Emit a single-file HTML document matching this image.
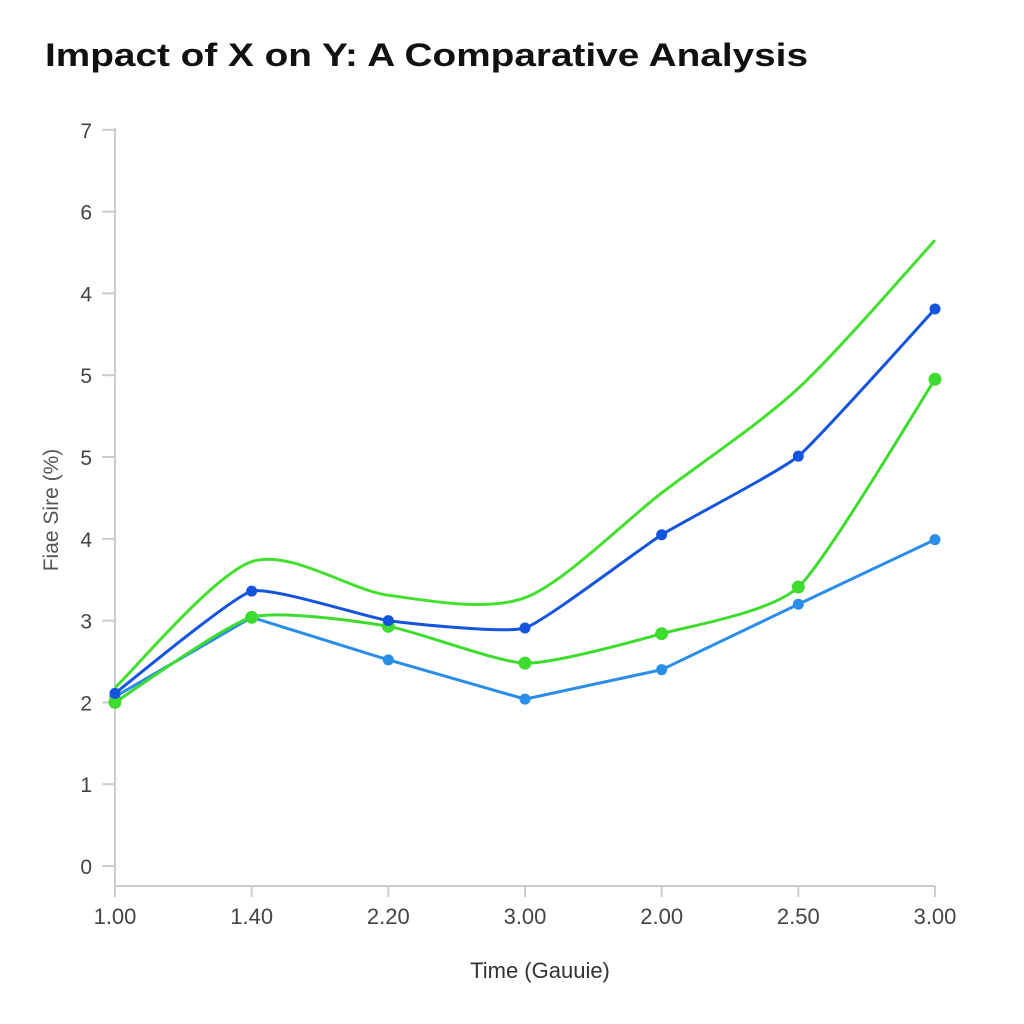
<!DOCTYPE html>
<html><head><meta charset="utf-8"><style>
html,body{margin:0;padding:0;background:#fff;}
svg{display:block;font-family:"Liberation Sans",Arial,sans-serif;}
</style></head><body>
<svg id="chart" width="1024" height="1024" viewBox="0 0 1024 1024">
<text x="45" y="66" font-size="32" font-weight="bold" fill="#111" textLength="763" lengthAdjust="spacingAndGlyphs">Impact of X on Y: A Comparative Analysis</text>
<g id="axes"></g>
<g id="series"></g>
<text x="540" y="978" font-size="22" fill="#333" text-anchor="middle">Time (Gauuie)</text>
<text transform="translate(58,510) rotate(-90)" font-size="21" fill="#555" text-anchor="middle">Fiae Sire (%)</text>
</svg>
<script>
const xLabels = ["1.00","1.40","2.20","3.00","2.00","2.50","3.00"];
const yLabels = ["0","1","2","3","4","5","5","4","6","7"];
const seriesTopGreen = [2.18,3.72,3.31,3.28,4.56,5.84,7.65];
const seriesDarkBlue = [2.11,3.36,3.0,2.91,4.05,5.01,6.81];
const seriesGreen = [2.0,3.04,2.93,2.48,2.84,3.41,5.95];
const seriesLightBlue = [2.07,3.04,2.52,2.04,2.4,3.2,3.99];

const NS="http://www.w3.org/2000/svg";
const x0=115,x1=935,yBase=866,yStep=81.8;
function xs(i){return x0+i*(x1-x0)/(xLabels.length-1);}
function ys(v){return yBase-v*yStep;}
function mk(tag,attrs,parent){const e=document.createElementNS(NS,tag);for(const k in attrs)e.setAttribute(k,attrs[k]);parent.appendChild(e);return e;}
const axes=document.getElementById('axes');
const sg=document.getElementById('series');
let a=mk('line',{x1:x0,y1:128,x2:x0,y2:886,stroke:'#ccc','stroke-width':2},axes);


a=mk('line',{x1:x0,y1:886,x2:x1,y2:886,stroke:'#ccc','stroke-width':2},axes);


yLabels.forEach((l,i)=>{
  const y=ys(i);
  const t=mk('line',{x1:x0-13,y1:y,x2:x0,y2:y,stroke:'#ccc','stroke-width':2},axes);
  
  
  const tx=mk('text',{x:92,y:y+8,'font-size':21,fill:'#444','text-anchor':'end'},axes);
  tx.textContent=l;
  
  
});
xLabels.forEach((l,i)=>{
  const x=xs(i);
  const t=mk('line',{x1:x,y1:886,x2:x,y2:897,stroke:'#ccc','stroke-width':2},axes);
  
  
  const tx=mk('text',{x:x,y:924,'font-size':22,fill:'#444','text-anchor':'middle'},axes);
  tx.textContent=l;
  
  
});
function smoothPath(vals,t){
  const p=vals.map((v,i)=>[xs(i),ys(v)]);
  let d='M'+p[0][0]+','+p[0][1];
  for(let i=0;i<p.length-1;i++){
    const p0=p[i-1]||p[i],p1=p[i],p2=p[i+1],p3=p[i+2]||p2;
    const c1=[p1[0]+(p2[0]-p0[0])*t,p1[1]+(p2[1]-p0[1])*t];
    const c2=[p2[0]-(p3[0]-p1[0])*t,p2[1]-(p3[1]-p1[1])*t];
    d+=' C'+c1+' '+c2+' '+p2;
  }
  return d;
}
function draw(vals,color,name,r,t){
  const path=mk('path',{d:t>0?smoothPath(vals,t):'M'+vals.map((v,i)=>xs(i)+','+ys(v)).join(' L'),fill:'none',stroke:color,'stroke-width':3,'stroke-linejoin':'round'},sg);
  
  
  if(r>0)vals.forEach((v,i)=>{
    const c=mk('circle',{cx:xs(i),cy:ys(v),r:r,fill:color},sg);
    
    
  });
}
draw(seriesTopGreen,'#44e030','top-green-series',0,0.14);
draw(seriesLightBlue,'#2a8de8','light-blue-series',5.5,0);
draw(seriesGreen,'#3ddc2e','green-series',6.5,0.1);
draw(seriesDarkBlue,'#1554dc','dark-blue-series',5.5,0.07);
</script>
</body></html>
